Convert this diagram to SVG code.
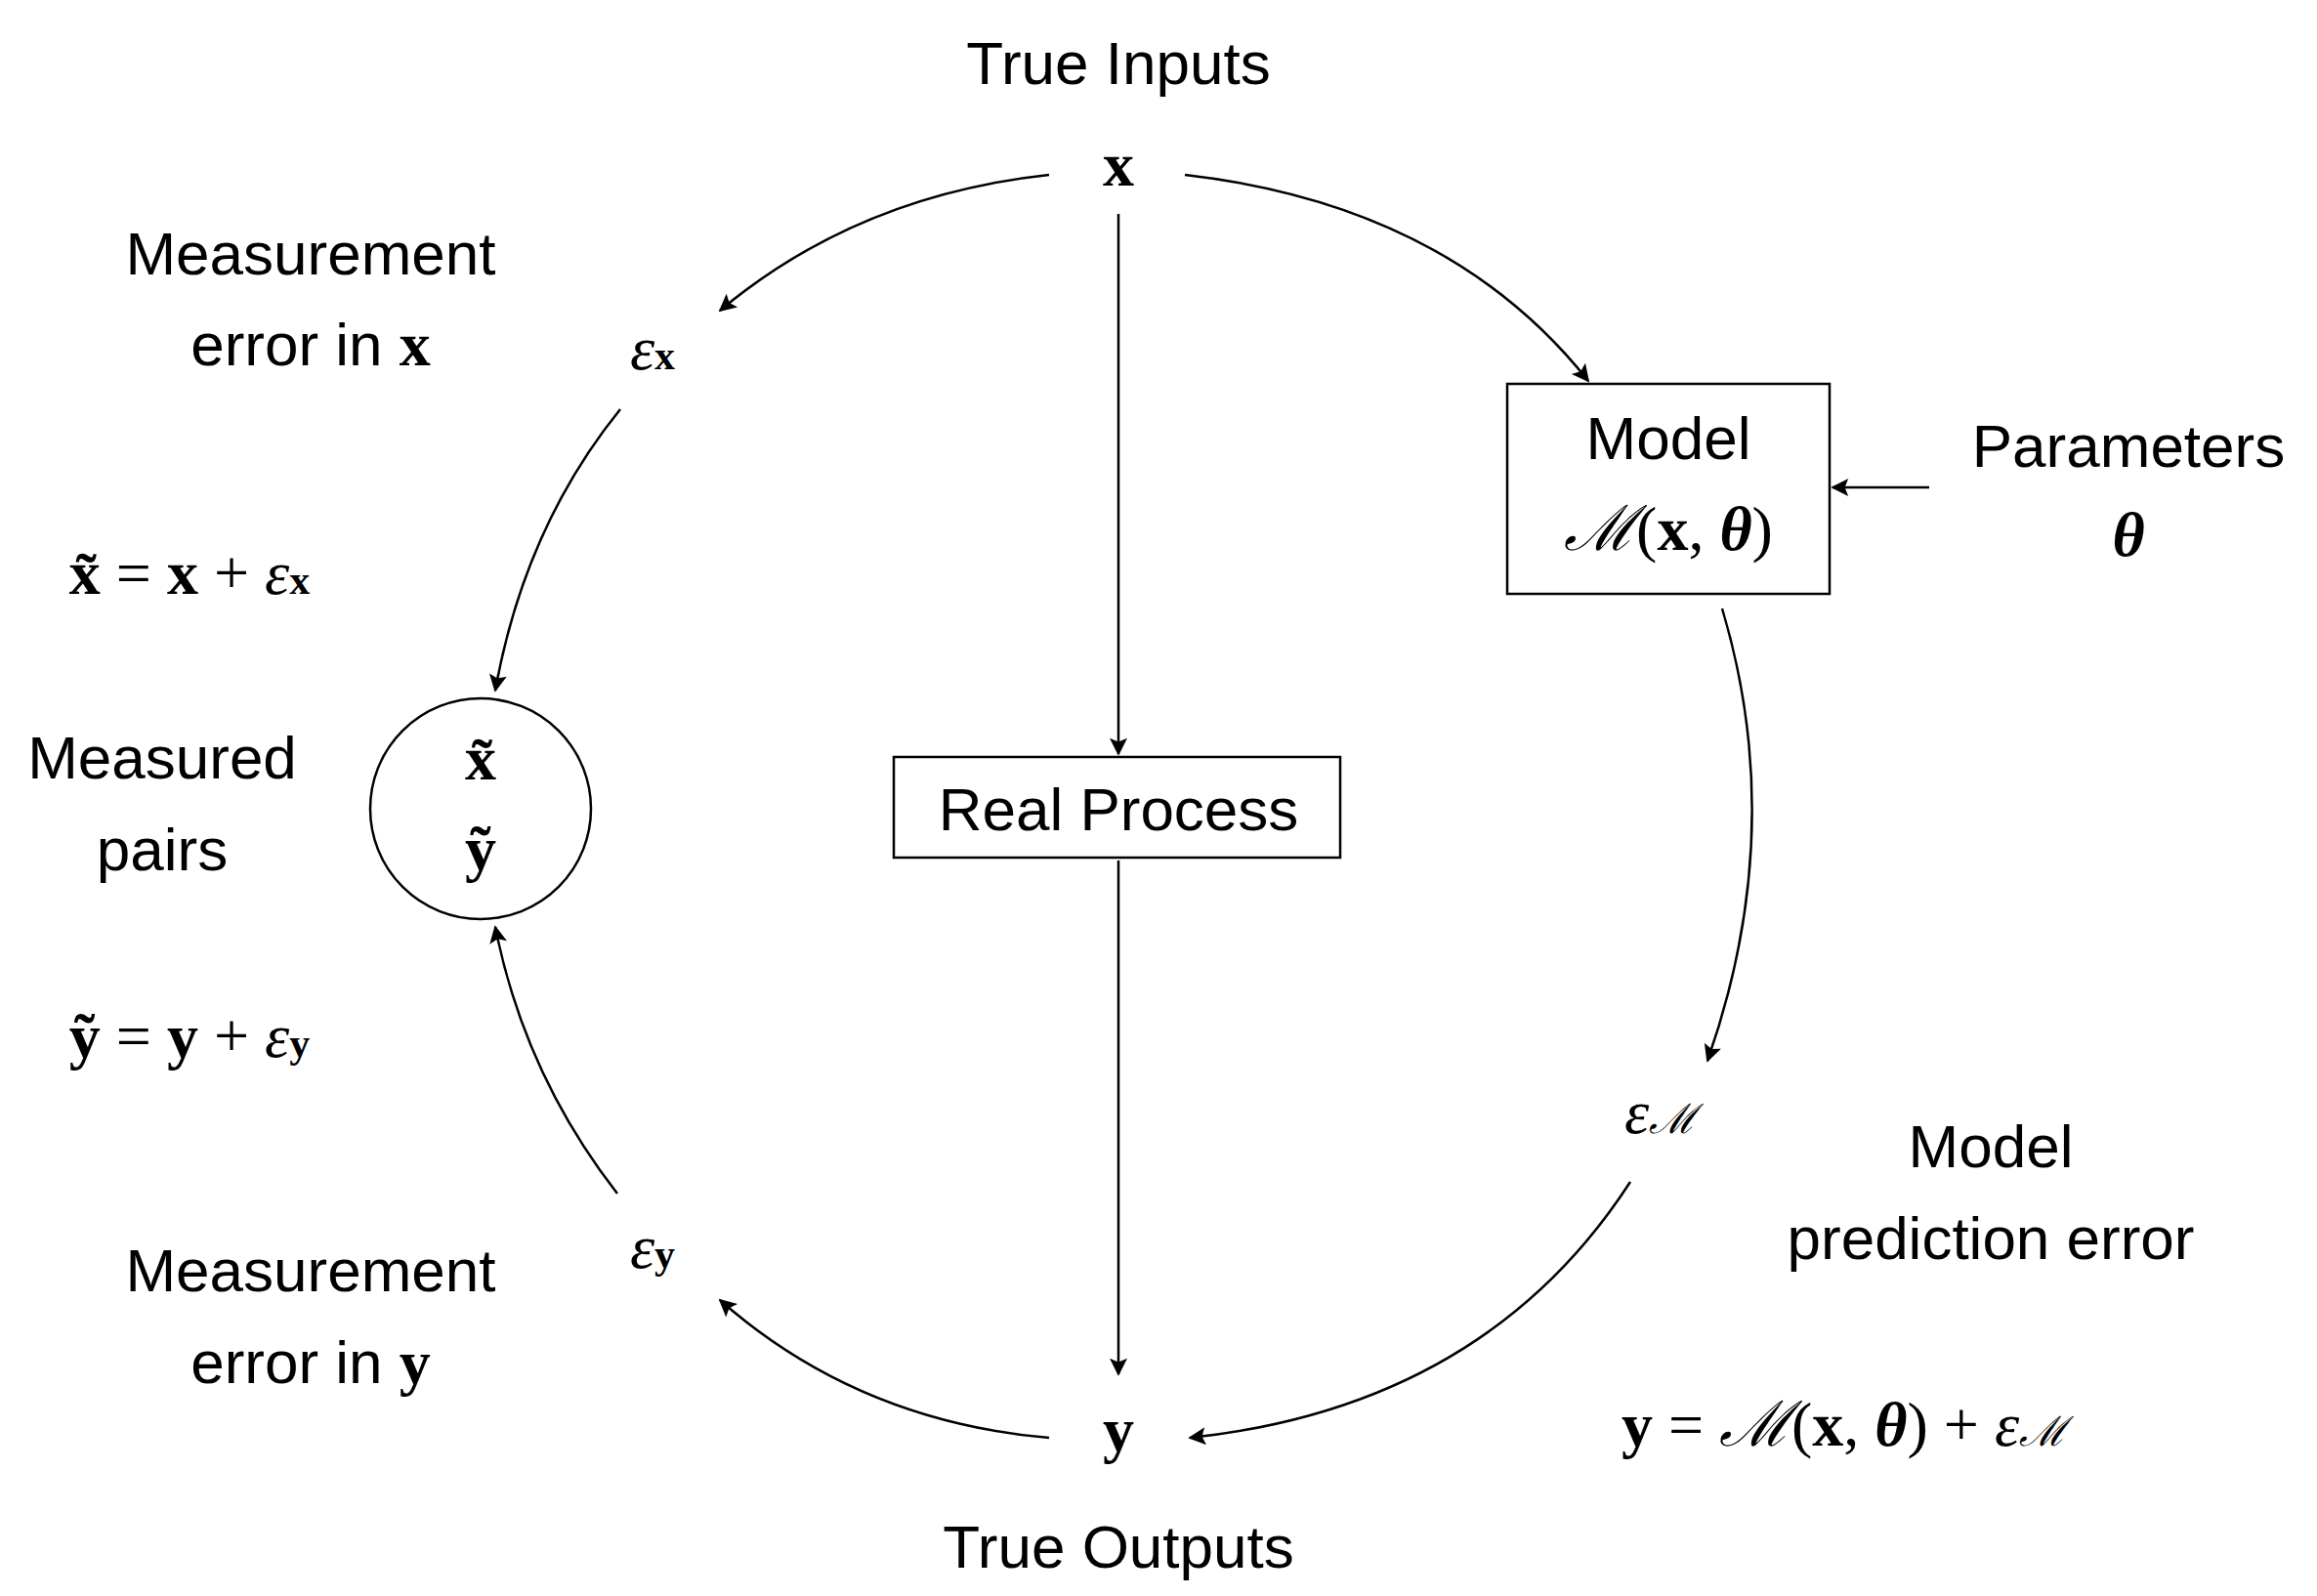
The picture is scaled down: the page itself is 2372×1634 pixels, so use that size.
<svg xmlns="http://www.w3.org/2000/svg" width="2372" height="1634" viewBox="0 0 2372 1634">
<style>
.t{font-family:"Liberation Sans","DejaVu Sans",sans-serif;font-size:62px;fill:#000;text-anchor:middle}
.m{font-family:"Liberation Serif","DejaVu Serif",serif;font-size:64px;fill:#000;text-anchor:middle}
.b{font-weight:bold}
.i{font-style:italic}
.s{font-size:42px}
.e{fill:none;stroke:#000;stroke-width:2.5}
</style>
<defs><marker id="a" viewBox="0 0 10 10" refX="9" refY="5" markerWidth="10" markerHeight="10" markerUnits="userSpaceOnUse" orient="auto"><path d="M0,0 L10,5 L0,10 z" fill="#000"/></marker>
<marker id="A" viewBox="0 0 10 10" refX="9" refY="5" markerWidth="22" markerHeight="18" orient="auto" markerUnits="userSpaceOnUse"><path d="M0,0 L10,5 L0,10 L2,5 z" fill="#000"/></marker></defs>
<g id="connectors" class="e" marker-end="url(#A)">
<path d="M1074,179 Q878,200 737,318"/>
<path d="M635,419 Q537,540 507,707"/>
<path d="M632,1222 Q537,1100 507,949"/>
<path d="M1074,1472 Q878,1455 737,1331"/>
<path d="M1213,179 Q1483,210 1626,390"/>
<path d="M1763,623 Q1831,850 1748,1086"/>
<path d="M1669,1210 Q1520,1440 1218,1472"/>
<path d="M1975,499 L1876,499"/>
<path d="M1145,219 L1145,772"/>
<path d="M1145,881 L1145,1407"/>
</g>
<g id="true-inputs"><text class="t" x="1145" y="86">True Inputs</text><text class="m b" x="1145" y="190">x</text></g>
<g id="eps-x"><text class="m i" x="668" y="378">ε<tspan class="b s" font-style="normal">x</tspan></text></g>
<g id="meas-x"><text class="t" x="318" y="281">Measurement</text><text class="t" x="318" y="374">error in <tspan class="m b">x</tspan></text></g>
<g id="eq-x"><text class="m" x="194" y="608"><tspan class="b">x̃</tspan> = <tspan class="b">x</tspan> + <tspan class="i">ε</tspan><tspan class="b s">x</tspan></text></g>
<g id="measured"><circle cx="492" cy="828" r="113" class="e"/><text class="m b" x="492" y="798">x̃</text><text class="m b" x="492" y="890">ỹ</text>
<text class="t" x="166" y="797">Measured</text><text class="t" x="166" y="891">pairs</text></g>
<g id="eq-y"><text class="m" x="194" y="1082"><tspan class="b">ỹ</tspan> = <tspan class="b">y</tspan> + <tspan class="i">ε</tspan><tspan class="b s">y</tspan></text></g>
<g id="eps-y"><text class="m i" x="668" y="1298">ε<tspan class="b s" font-style="normal">y</tspan></text></g>
<g id="meas-y"><text class="t" x="318" y="1322">Measurement</text><text class="t" x="318" y="1416">error in <tspan class="m b">y</tspan></text></g>
<g id="true-outputs"><text class="m b" x="1145" y="1485">y</text><text class="t" x="1145" y="1605">True Outputs</text></g>
<g id="real-process"><rect x="915" y="775" width="457" height="103" class="e"/><text class="t" x="1145" y="850">Real Process</text></g>
<g id="model"><rect x="1543" y="393" width="330" height="215" class="e"/><text class="t" x="1708" y="470">Model</text><text class="m" x="1708" y="563"><tspan class="i">ℳ</tspan>(<tspan class="b">x</tspan>, <tspan class="b i">θ</tspan>)</text></g>
<g id="params"><text class="t" x="2179" y="478">Parameters</text><text class="m b i" x="2179" y="569">θ</text></g>
<g id="eps-m"><text class="m i" x="1700" y="1160">ε<tspan class="s">ℳ</tspan></text></g>
<g id="model-err"><text class="t" x="2038" y="1195">Model</text><text class="t" x="2038" y="1289">prediction error</text></g>
<g id="eq-m"><text class="m" x="1888" y="1480"><tspan class="b">y</tspan> = <tspan class="i">ℳ</tspan>(<tspan class="b">x</tspan>, <tspan class="b i">θ</tspan>) + <tspan class="i">ε</tspan><tspan class="i s">ℳ</tspan></text></g>
</svg>
